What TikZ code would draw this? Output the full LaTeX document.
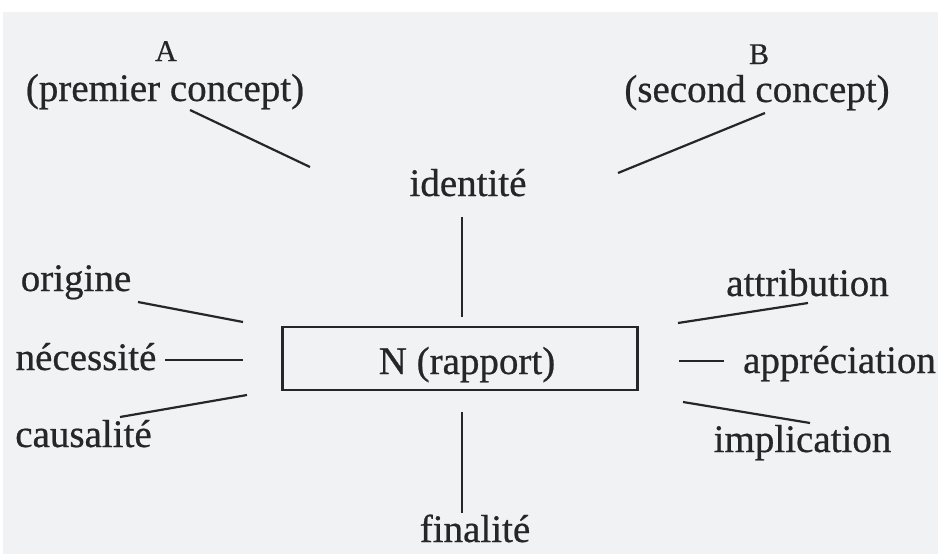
\documentclass[tikz,border=0pt]{standalone}
\usepackage{fontspec}
\setmainfont{Liberation Serif}[FakeBold=0.6]
\definecolor{paper}{HTML}{F1F2F4}
\definecolor{ink}{HTML}{262626}
\tikzset{
  lbl/.style={inner sep=0pt, anchor=base, text=ink, font=\fontsize{39}{44}\selectfont},
  letter/.style={inner sep=0pt, anchor=base, text=ink, font=\fontsize{30}{34}\selectfont},
  link/.style={draw=ink, line width=2.2pt},
  frame/.style={draw=ink, line width=2.8pt}
}
\begin{document}
\begin{tikzpicture}[x=1pt, y=-1pt]
  % page and scanned paper tone
  \fill[white] (0,0) rectangle (938,554);
  \fill[paper] (3,12) rectangle (938,554);
  \useasboundingbox (0,0) rectangle (938,554);

  % the two concepts
  \node[letter] (a) at (166,61) {A};
  \node[lbl] (pa) at (165,101) {(premier concept)};
  \node[letter] (b) at (759,64) {B};
  \node[lbl] (pb) at (757,102) {(second concept)};

  % central relation
  \node[lbl] (idt) at (468,196) {identité};
  \node[frame, minimum width=355pt, minimum height=63pt, inner sep=0pt] (n) at (460,358.5) {};
  \node[lbl] (nr) at (467,374) {N (rapport)};
  \node[lbl] (fin) at (475,542) {finalité};

  % left-hand categories
  \node[lbl] (ori) at (76,291) {origine};
  \node[lbl] (nec) at (86,370) {nécessité};
  \node[lbl] (cau) at (83.5,447) {causalité};

  % right-hand categories
  \node[lbl] (att) at (807.5,296) {attribution};
  \node[lbl] (app) at (839.5,373) {appréciation};
  \node[lbl] (imp) at (802.5,452) {implication};

  % free ends of the connectors
  \coordinate (pa-e) at (190,110);   \coordinate (idt-w) at (310,167);
  \coordinate (pb-e) at (765,113);   \coordinate (idt-e) at (618,173);
  \coordinate (idt-s) at (462,217);  \coordinate (n-n) at (462,317);
  \coordinate (n-s) at (462,412);    \coordinate (fin-n) at (462,513);
  \coordinate (ori-e) at (138,302);  \coordinate (n-nw) at (243,322);
  \coordinate (nec-e) at (165,360);  \coordinate (n-w) at (243,360);
  \coordinate (cau-e) at (120,417);  \coordinate (n-sw) at (247,395);
  \coordinate (n-ne) at (678,323);   \coordinate (att-w) at (808,303);
  \coordinate (n-e) at (679,361);    \coordinate (app-w) at (724,361);
  \coordinate (n-se) at (683,402);   \coordinate (imp-w) at (810,423);

  % connectors
  \draw[link] (pa-e) -- (idt-w);
  \draw[link] (pb-e) -- (idt-e);
  \draw[link] (idt-s) -- (n-n);
  \draw[link] (n-s) -- (fin-n);
  \draw[link] (ori-e) -- (n-nw);
  \draw[link] (nec-e) -- (n-w);
  \draw[link] (cau-e) -- (n-sw);
  \draw[link] (n-ne) -- (att-w);
  \draw[link] (n-e) -- (app-w);
  \draw[link] (n-se) -- (imp-w);
\end{tikzpicture}
\end{document}
